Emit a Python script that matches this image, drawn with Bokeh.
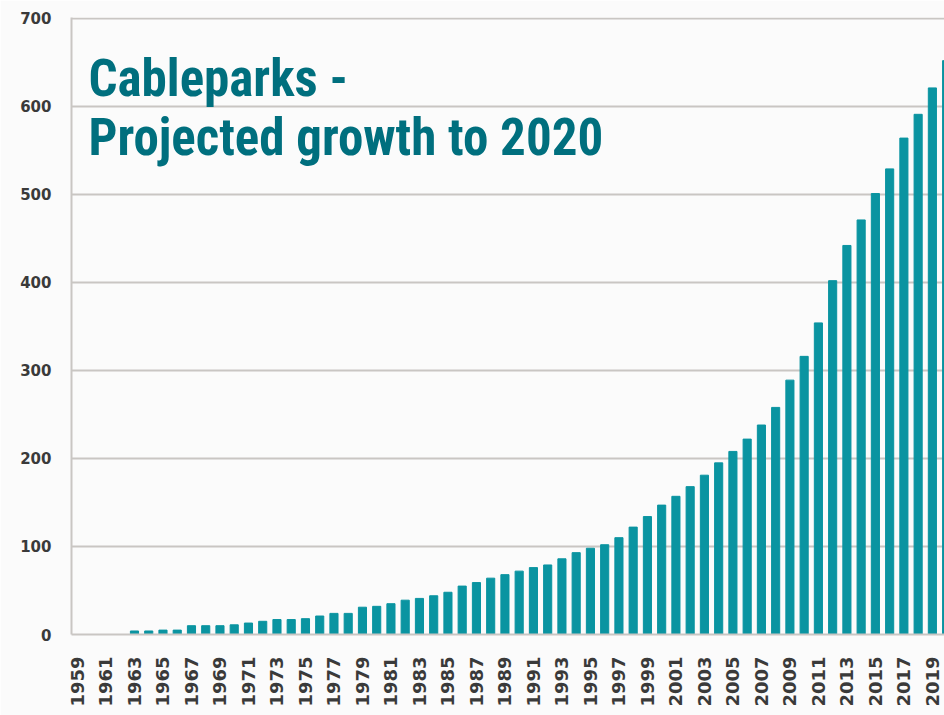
from bokeh.plotting import figure
from bokeh.models import Range1d, FixedTicker, Label, ColumnDataSource
from bokeh.embed import file_html
from bokeh.resources import INLINE
import math

years = list(range(1959, 2021))
cableparks = [
    0, 0, 0, 0, 4, 4, 5, 5, 10, 10,          # 1959-1968
    10, 11, 13, 15, 17, 17, 18, 21, 24, 24,  # 1969-1978
    31, 32, 35, 39, 41, 44, 48, 55, 59, 64,  # 1979-1988
    68, 72, 76, 79, 86, 93, 98, 102, 110, 122,  # 1989-1998
    134, 147, 157, 168, 181, 195, 208, 222, 238, 258,  # 1999-2008
    289, 316, 354, 402, 442, 471, 501, 529, 564, 591,  # 2009-2018
    621, 652,  # 2019-2020
]
tick_years = list(range(1959, 2020, 2))
y_ticks = [0, 100, 200, 300, 400, 500, 600, 700]
title_lines = ["Cableparks -", "Projected growth to 2020"]

src = ColumnDataSource(dict(year=years, value=cableparks))

p = figure(width=944, height=715, output_backend="svg", toolbar_location=None,
           x_range=Range1d(1958.58, 2019.85), y_range=Range1d(0, 701),
           min_border_left=71, min_border_right=0, min_border_top=17,
           min_border_bottom=81)
p.background_fill_color = "#fbfbfb"
p.border_fill_color = "#fbfbfb"
p.outline_line_color = None

p.vbar(x="year", top="value", width=0.57, source=src, color="#0a94a1")

grid_color = "#c9c6c3"
p.xgrid.grid_line_color = None
p.ygrid.grid_line_color = grid_color
p.ygrid.grid_line_width = 2
p.ygrid.ticker = FixedTicker(ticks=y_ticks)

p.yaxis.ticker = FixedTicker(ticks=y_ticks)
p.yaxis.axis_line_color = grid_color
p.yaxis.axis_line_width = 2
p.yaxis.major_tick_line_color = None
p.yaxis.minor_tick_line_color = None
p.yaxis.major_tick_out = 0
p.yaxis.major_tick_in = 0
p.yaxis.major_label_standoff = 20
p.yaxis.major_label_text_font = "DejaVu Sans"
p.yaxis.major_label_text_font_style = "bold"
p.yaxis.major_label_text_font_size = "15px"
p.yaxis.major_label_text_color = "#3a3a3a"

p.xaxis.ticker = FixedTicker(ticks=tick_years)
p.xaxis.axis_line_color = grid_color
p.xaxis.axis_line_width = 2
p.xaxis.major_tick_line_color = None
p.xaxis.minor_tick_line_color = None
p.xaxis.major_tick_out = 0
p.xaxis.major_tick_in = 0
p.xaxis.major_label_standoff = 22
p.xaxis.major_label_orientation = math.pi / 2
p.xaxis.major_label_text_font = "DejaVu Sans"
p.xaxis.major_label_text_font_style = "bold"
p.xaxis.major_label_text_font_size = "18px"
p.xaxis.major_label_text_color = "#3a3a3a"

title_font = "'Liberation Sans Narrow', 'Roboto Condensed', 'DejaVu Sans Condensed', sans-serif"
for txt, yv in zip(title_lines, [632, 565]):
    p.add_layout(Label(x=1959.77, y=yv, text=txt, text_font=title_font,
                       text_font_style="bold", text_font_size="51px",
                       text_color="#006f7e", text_baseline="alphabetic"))

open("out.html", "w").write(file_html(p, INLINE))
